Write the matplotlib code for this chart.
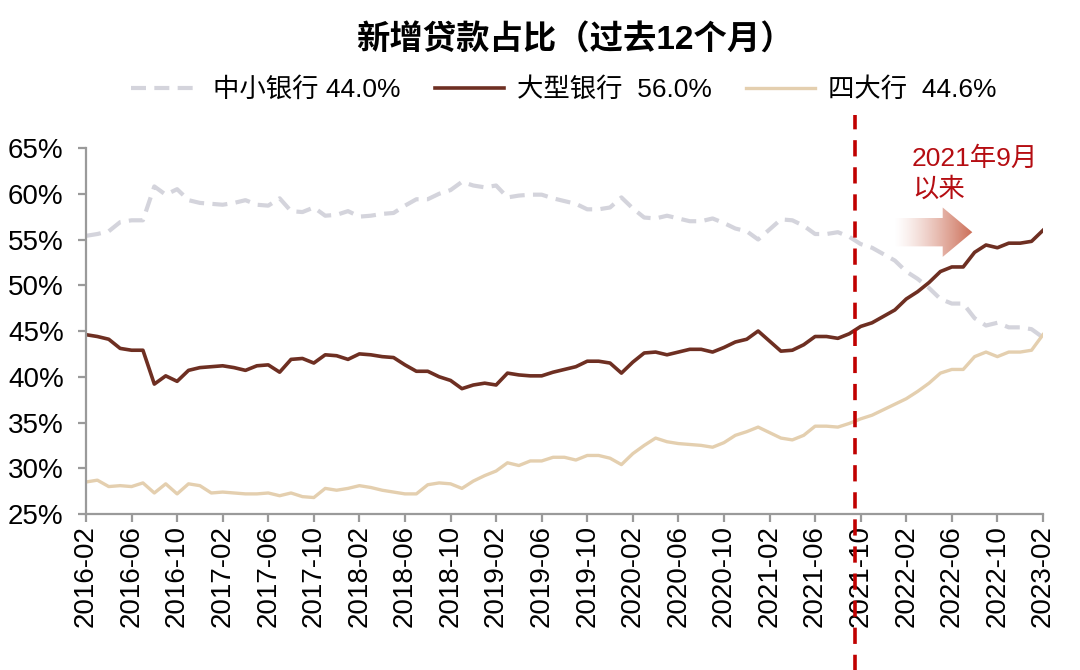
import numpy as np
import pandas as pd
import matplotlib
matplotlib.use('Agg')
import matplotlib.pyplot as plt
from matplotlib.patches import Polygon

plt.rcParams['font.family'] = ['Liberation Sans', 'Noto Sans CJK SC', 'DejaVu Sans']

# monthly, 2016-02 .. 2023-02
months = pd.date_range('2016-02-01', '2023-02-01', freq='MS').strftime('%Y-%m').tolist()

large_banks = [44.6, 44.4, 44.1, 43.1, 42.9, 42.9, 39.2, 40.1, 39.5, 40.7,
               41.0, 41.1, 41.2, 41.0, 40.7, 41.2, 41.3, 40.5, 41.9, 42.0,
               41.5, 42.4, 42.3, 41.9, 42.5, 42.4, 42.2, 42.1, 41.3, 40.6,
               40.6, 40.0, 39.6, 38.7, 39.1, 39.3, 39.1, 40.4, 40.2, 40.1,
               40.1, 40.5, 40.8, 41.1, 41.7, 41.7, 41.5, 40.4, 41.6, 42.6,
               42.7, 42.4, 42.7, 43.0, 43.0, 42.7, 43.2, 43.8, 44.1, 45.0,
               43.9, 42.8, 42.9, 43.5, 44.4, 44.4, 44.2, 44.7, 45.5, 45.9,
               46.6, 47.3, 48.5, 49.3, 50.3, 51.5, 52.0, 52.0, 53.6, 54.4,
               54.1, 54.6, 54.6, 54.8, 56.0]

small_banks = [55.4, 55.6, 55.9, 56.9, 57.1, 57.1, 60.8, 59.9, 60.5, 59.3,
               59.0, 58.9, 58.8, 59.0, 59.3, 58.8, 58.7, 59.5, 58.1, 58.0,
               58.5, 57.6, 57.7, 58.1, 57.5, 57.6, 57.8, 57.9, 58.7, 59.4,
               59.4, 60.0, 60.4, 61.3, 60.9, 60.7, 60.9, 59.6, 59.8, 59.9,
               59.9, 59.5, 59.2, 58.9, 58.3, 58.3, 58.5, 59.6, 58.4, 57.4,
               57.3, 57.6, 57.3, 57.0, 57.0, 57.3, 56.8, 56.2, 55.9, 55.0,
               56.1, 57.2, 57.1, 56.5, 55.6, 55.6, 55.8, 55.3, 54.5, 54.1,
               53.4, 52.7, 51.5, 50.7, 49.7, 48.5, 48.0, 48.0, 46.4, 45.6,
               45.9, 45.4, 45.4, 45.2, 44.3]

big_four = [28.5, 28.7, 28.0, 28.1, 28.0, 28.4, 27.3, 28.3, 27.2, 28.3,
            28.1, 27.3, 27.4, 27.3, 27.2, 27.2, 27.3, 27.0, 27.3, 26.9,
            26.8, 27.8, 27.6, 27.8, 28.1, 27.9, 27.6, 27.4, 27.2, 27.2,
            28.2, 28.4, 28.3, 27.8, 28.6, 29.2, 29.7, 30.6, 30.3, 30.8,
            30.8, 31.2, 31.2, 30.9, 31.4, 31.4, 31.1, 30.4, 31.6, 32.5,
            33.3, 32.9, 32.7, 32.6, 32.5, 32.3, 32.8, 33.6, 34.0, 34.5,
            33.9, 33.3, 33.1, 33.6, 34.6, 34.6, 34.5, 34.9, 35.4, 35.8,
            36.4, 37.0, 37.6, 38.4, 39.3, 40.4, 40.8, 40.8, 42.2, 42.7,
            42.2, 42.7, 42.7, 42.9, 44.6]

labels = ['中小银行 44.0%', '大型银行  56.0%', '四大行  44.6%']
y_ticks = [25, 30, 35, 40, 45, 50, 55, 60, 65]
since_label = '2021-09'

x = np.arange(len(months))

fig = plt.figure(figsize=(10.8, 6.7), dpi=100)
ax = fig.add_axes([0.0796, 0.2328, 0.8861, 0.5463])

ax.plot(x, small_banks, color='#D4D4DC', lw=3.0, ls=(0, (3.6, 2.0)), label=labels[0])
ax.plot(x, large_banks, color='#6E2F22', lw=2.6, label=labels[1])
ax.plot(x, big_four, color='#E4CFAF', lw=2.4, label=labels[2])

ax.set_xlim(0, len(months) - 1)
ax.set_ylim(25, 65)
ax.set_yticks(y_ticks)
ax.set_yticklabels([f'{v}%' for v in y_ticks])
ax.set_xticks(x[::4])
ax.set_xticklabels(months[::4], rotation=90)

for s in ['top', 'right']:
    ax.spines[s].set_visible(False)
for s in ['left', 'bottom']:
    ax.spines[s].set_color('#9A9A9A')
    ax.spines[s].set_linewidth(1.6)
ax.tick_params(axis='both', colors='#9A9A9A', width=1.6, length=6, labelcolor='black')
ax.tick_params(axis='y', labelsize=20, pad=10)
ax.tick_params(axis='x', labelsize=20, pad=2)

# vertical marker between 2021-09 and 2021-10
vx = months.index(since_label) + 0.5
ax.plot([vx, vx], [-0.43, 1.09], transform=ax.get_xaxis_transform(),
        color='#C00000', lw=2.6, ls=(0, (4.5, 3.0)), clip_on=False, zorder=5)

ax.text(72.5, 65.2, '2021年9月\n以来', color='#B50D12', fontsize=19,
        va='top', ha='left', linespacing=1.35)

# gradient arrow
x0, xh, x1 = 70.9, 75.2, 77.8
yc, bh, hh = 55.8, 1.55, 2.7
verts = [(x0, yc - bh), (xh, yc - bh), (xh, yc - hh), (x1, yc),
         (xh, yc + hh), (xh, yc + bh), (x0, yc + bh)]
arrow = Polygon(verts, closed=True, facecolor='none', edgecolor='none')
ax.add_patch(arrow)
grad = np.zeros((2, 256, 4))
grad[..., 0] = 0.80
grad[..., 1] = 0.43
grad[..., 2] = 0.34
grad[..., 3] = np.linspace(0.0, 1.0, 256) ** 1.3
img = ax.imshow(grad, extent=[x0, x1, yc - hh, yc + hh], aspect='auto',
                interpolation='bilinear', zorder=4)
img.set_clip_path(arrow)
ax.set_xlim(0, len(months) - 1)
ax.set_ylim(25, 65)

fig.text(0.532, 0.94, '新增贷款占比（过去12个月）', fontsize=24, fontweight='bold',
         ha='center', va='center')
fig.legend(loc='center', bbox_to_anchor=(0.522, 0.866), ncol=3, frameon=False,
           fontsize=19, handlelength=2.6, handletextpad=0.5, columnspacing=1.3)

fig.savefig('out.png', dpi=100)
